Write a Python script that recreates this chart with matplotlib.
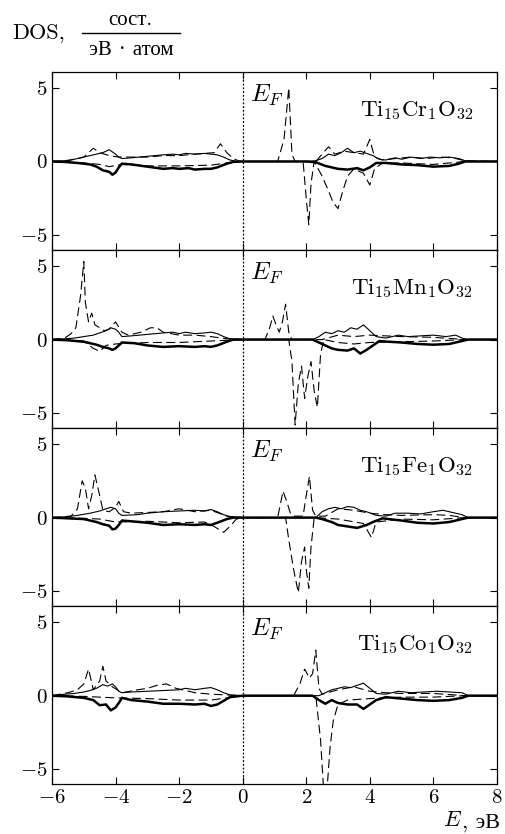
import numpy as np
import matplotlib
matplotlib.use("Agg")
import matplotlib.pyplot as plt
from matplotlib.lines import Line2D

plt.rcParams['font.family'] = ['cmr10', 'Liberation Serif']
plt.rcParams['mathtext.fontset'] = 'cm'
plt.rcParams['axes.formatter.use_mathtext'] = True
plt.rcParams['axes.unicode_minus'] = True

labels = [r'$\mathrm{Ti}_{15}\mathrm{Cr}_{1}\mathrm{O}_{32}$',
          r'$\mathrm{Ti}_{15}\mathrm{Mn}_{1}\mathrm{O}_{32}$',
          r'$\mathrm{Ti}_{15}\mathrm{Fe}_{1}\mathrm{O}_{32}$',
          r'$\mathrm{Ti}_{15}\mathrm{Co}_{1}\mathrm{O}_{32}$']

# ---- Ti15Cr1O32 ----
cr_e_up = [-6, -5.6, -5.3, -5.0, -4.8, -4.6, -4.4, -4.3, -4.2, -4.1, -4.0, -3.9, -3.8, -3.5, -3.0, -2.5, -2.2, -2.0, -1.8, -1.5, -1.2, -1.0, -0.8, -0.6, -0.4, -0.2, 0,
           2.0, 2.3, 2.5, 2.7, 2.9, 3.1, 3.3, 3.5, 3.7, 3.9, 4.1, 4.3, 4.5, 4.8, 5.0, 5.3, 5.6, 5.9, 6.2, 6.5, 6.8, 7.0, 7.2, 8]
cr_up = [0, 0.05, 0.15, 0.3, 0.4, 0.5, 0.6, 0.7, 0.8, 0.65, 0.5, 0.3, 0.2, 0.25, 0.35, 0.45, 0.5, 0.45, 0.55, 0.5, 0.55, 0.5, 0.45, 0.3, 0.1, 0.02, 0,
         0, 0.05, 0.2, 0.5, 0.4, 0.6, 0.9, 0.6, 0.7, 0.55, 0.4, 0.15, 0.1, 0.25, 0.15, 0.3, 0.2, 0.3, 0.25, 0.3, 0.2, 0.05, 0, 0]
cr_e_dn = [-6, -5.6, -5.2, -4.8, -4.6, -4.4, -4.2, -4.1, -4.0, -3.9, -3.8, -3.5, -3.0, -2.5, -2.2, -2.0, -1.7, -1.5, -1.2, -1.0, -0.8, -0.5, -0.3, 0,
           2.0, 2.3, 2.6, 3.0, 3.3, 3.6, 3.8, 4.0, 4.2, 4.5, 5.0, 5.5, 6.0, 6.5, 6.8, 7.0, 8]
cr_dn = [0, -0.03, -0.1, -0.2, -0.35, -0.6, -0.7, -0.9, -0.75, -0.4, -0.15, -0.2, -0.35, -0.5, -0.45, -0.5, -0.45, -0.55, -0.5, -0.5, -0.4, -0.15, -0.03, 0,
         0, -0.05, -0.3, -0.5, -0.55, -0.45, -0.6, -0.4, -0.1, -0.1, -0.2, -0.25, -0.35, -0.3, -0.15, 0, 0]
cr_e_imp_up = [-6, -5.5, -5.0, -4.7, -4.5, -4.2, -3.9, -3.5, -3.0, -2.5, -2.0, -1.5, -1.2, -0.9, -0.7, -0.5, -0.3, -0.1, 0,
               1.1, 1.3, 1.45, 1.55, 1.65, 2.3, 2.5, 2.7, 2.9, 3.2, 3.5, 3.8, 4.0, 4.15, 4.4, 4.8, 5.3, 5.8, 6.2, 6.6, 7.0, 8]
cr_imp_up = [0, 0.05, 0.3, 0.9, 0.6, 0.4, 0.3, 0.3, 0.3, 0.4, 0.4, 0.5, 0.55, 0.6, 1.2, 0.6, 0.2, 0.02, 0,
             0, 1.5, 5.0, 0.5, 0, 0, 0.5, 1.0, 0.5, 0.7, 0.6, 0.5, 1.5, 0.3, 0.1, 0.2, 0.3, 0.2, 0.3, 0.25, 0.05, 0]
cr_e_imp_dn = [-6, -5.0, -4.5, -4.2, -3.8, -3.0, -2.0, -1.0, -0.5, 0,
               1.9, 2.0, 2.08, 2.15, 2.25, 2.5, 2.7, 2.85, 3.0, 3.15, 3.3, 3.5, 3.8, 4.0, 4.15, 4.4, 5.0, 6.0, 7.0, 8]
cr_imp_dn = [0, -0.1, -0.2, -0.35, -0.2, -0.3, -0.3, -0.25, -0.1, 0,
             0, -2.5, -4.3, -1.5, 0.0, -1.0, -2.0, -2.8, -3.2, -2.0, -1.0, -0.5, -0.8, -1.6, -0.5, -0.1, -0.1, -0.2, 0, 0]

# ---- Ti15Mn1O32 ----
mn_e_up = [-6, -5.6, -5.3, -5.0, -4.7, -4.5, -4.3, -4.15, -4.0, -3.9, -3.8, -3.5, -3.0, -2.5, -2.2, -2.0, -1.8, -1.5, -1.2, -1.0, -0.8, -0.6, -0.4, 0,
           2.2, 2.4, 2.6, 2.8, 3.0, 3.2, 3.4, 3.6, 3.8, 4.0, 4.2, 4.5, 4.9, 5.2, 5.6, 6.0, 6.4, 6.7, 6.9, 7.1, 8]
mn_up = [0, 0.05, 0.1, 0.2, 0.3, 0.45, 0.6, 0.8, 0.7, 0.5, 0.2, 0.25, 0.35, 0.45, 0.5, 0.4, 0.5, 0.4, 0.45, 0.5, 0.4, 0.2, 0.05, 0,
         0, 0.2, 0.5, 0.4, 0.6, 0.5, 0.8, 0.7, 1.0, 0.6, 0.2, 0.1, 0.3, 0.2, 0.25, 0.3, 0.2, 0.3, 0.1, 0, 0]
mn_e_dn = [-6, -5.5, -5.0, -4.6, -4.4, -4.2, -4.1, -4.0, -3.9, -3.8, -3.4, -3.0, -2.5, -2.0, -1.5, -1.2, -1.0, -0.8, -0.5, -0.3, 0,
           2.2, 2.5, 2.8, 3.0, 3.3, 3.5, 3.7, 3.9, 4.1, 4.3, 4.6, 5.0, 5.5, 6.0, 6.5, 6.9, 7.1, 8]
mn_dn = [0, -0.05, -0.15, -0.35, -0.5, -0.6, -0.7, -0.6, -0.4, -0.2, -0.25, -0.4, -0.5, -0.45, -0.5, -0.45, -0.5, -0.4, -0.15, 0, 0,
         0, -0.3, -0.6, -0.7, -0.75, -0.6, -0.95, -0.7, -0.4, -0.1, -0.15, -0.2, -0.3, -0.35, -0.3, -0.1, 0, 0]
mn_e_imp_up = [-6, -5.6, -5.4, -5.25, -5.1, -5.0, -4.95, -4.85, -4.75, -4.65, -4.5, -4.35, -4.2, -4.0, -3.8, -3.6, -3.2, -2.9, -2.7, -2.5, -2.0, -1.5, -1.0, -0.5, 0,
               0.7, 0.85, 0.95, 1.05, 1.15, 1.25, 1.35, 1.45, 1.55, 2.5, 3.0, 3.5, 4.0, 5.0, 6.0, 7.0, 8]
mn_imp_up = [0, 0.1, 0.4, 0.8, 3.0, 5.3, 2.5, 1.2, 1.8, 1.0, 0.8, 0.6, 0.7, 1.2, 0.5, 0.3, 0.5, 0.8, 0.8, 0.5, 0.3, 0.3, 0.2, 0.05, 0,
             0, 0.8, 1.6, 1.0, 0.5, 1.2, 2.4, 0.5, 0, 0, 0.3, 0.2, 0.3, 0.2, 0.15, 0, 0]
mn_e_imp_dn = [-6, -5.0, -4.7, -4.5, -4.3, -4.0, -3.0, -2.0, -1.0, 0,
               1.45, 1.55, 1.65, 1.75, 1.85, 1.95, 2.05, 2.15, 2.25, 2.35, 2.45, 2.55, 3.0, 3.5, 4.0, 5.0, 6.0, 7.0, 8]
mn_imp_dn = [0, -0.1, -0.6, -0.8, -0.4, -0.3, -0.2, -0.2, -0.1, 0,
             0, -1.5, -5.8, -3.0, -1.8, -4.0, -2.5, -1.5, -3.5, -4.6, -1.0, 0, -0.2, -0.3, -0.2, -0.15, -0.1, 0, 0]

# ---- Ti15Fe1O32 ----
fe_e_up = [-6, -5.6, -5.2, -4.8, -4.5, -4.3, -4.15, -4.0, -3.9, -3.8, -3.3, -3.0, -2.5, -2.0, -1.5, -1.2, -1.0, -0.8, -0.6, -0.4, 0,
           2.3, 2.5, 2.7, 2.9, 3.1, 3.3, 3.5, 3.7, 3.9, 4.2, 4.5, 4.8, 5.2, 5.6, 6.0, 6.3, 6.6, 6.9, 7.1, 8]
fe_up = [0, 0.05, 0.15, 0.3, 0.45, 0.6, 0.7, 0.6, 0.3, 0.15, 0.2, 0.3, 0.4, 0.45, 0.5, 0.45, 0.55, 0.4, 0.2, 0.05, 0,
         0, 0.4, 0.6, 0.7, 0.6, 0.75, 0.7, 0.5, 0.4, 0.15, 0.1, 0.3, 0.3, 0.25, 0.4, 0.5, 0.35, 0.2, 0, 0]
fe_e_dn = [-6, -5.5, -5.0, -4.6, -4.4, -4.2, -4.1, -4.0, -3.9, -3.8, -3.5, -3.0, -2.5, -2.0, -1.5, -1.2, -1.0, -0.8, -0.5, -0.3, 0,
           2.3, 2.5, 2.8, 3.0, 3.3, 3.6, 3.9, 4.1, 4.4, 5.0, 5.5, 6.0, 6.5, 6.9, 7.1, 8]
fe_dn = [0, -0.05, -0.1, -0.3, -0.45, -0.55, -0.8, -0.75, -0.5, -0.2, -0.25, -0.35, -0.5, -0.45, -0.5, -0.45, -0.5, -0.35, -0.1, 0, 0,
         0, -0.1, -0.3, -0.5, -0.6, -0.7, -0.5, -0.3, -0.05, -0.2, -0.35, -0.4, -0.3, -0.1, 0, 0]
fe_e_imp_up = [-6, -5.4, -5.2, -5.05, -4.95, -4.85, -4.75, -4.65, -4.5, -4.4, -4.2, -4.0, -3.9, -3.75, -3.5, -3.0, -2.5, -2.0, -1.5, -1.0, -0.5, 0,
               1.1, 1.27, 1.4, 1.5, 1.6, 1.9, 2.0, 2.1, 2.2, 2.3, 2.6, 3.0, 3.5, 4.0, 4.5, 5.0, 6.0, 6.5, 7.0, 8]
fe_imp_up = [0, 0.1, 0.6, 2.5, 2.0, 0.6, 1.5, 2.9, 1.5, 0.5, 0.4, 0.7, 1.1, 0.4, 0.3, 0.35, 0.4, 0.6, 0.4, 0.5, 0.1, 0,
             0, 1.8, 1.0, 0.3, 0.1, 0.1, 1.5, 2.8, 0.5, 0.1, 0.1, 0.6, 0.5, 0.3, 0.2, 0.15, 0.2, 0.15, 0, 0]
fe_e_imp_dn = [-6, -5.0, -4.5, -4.0, -3.0, -2.0, -1.2, -0.9, -0.6, -0.4, -0.2, 0,
               1.35, 1.45, 1.6, 1.75, 1.85, 1.95, 2.0, 2.08, 2.15, 2.25, 3.0, 3.8, 4.05, 4.2, 5.0, 6.0, 7.0, 8]
fe_imp_dn = [0, -0.05, -0.1, -0.3, -0.25, -0.35, -0.3, -0.6, -1.0, -0.6, -0.1, 0,
             0, -1.5, -3.5, -5.1, -3.0, -2.0, -3.5, -4.8, -2.0, 0, -0.1, -0.4, -1.35, -0.3, -0.1, -0.15, 0, 0]

# ---- Ti15Co1O32 ----
co_e_up = [-6, -5.6, -5.3, -5.0, -4.8, -4.6, -4.4, -4.25, -4.1, -4.0, -3.9, -3.8, -3.5, -3.0, -2.5, -2.0, -1.8, -1.5, -1.2, -1.0, -0.8, -0.6, -0.4, 0,
           2.4, 2.6, 2.8, 3.0, 3.2, 3.4, 3.6, 3.8, 4.0, 4.2, 4.5, 4.9, 5.3, 5.7, 6.1, 6.5, 6.9, 7.1, 8]
co_up = [0, 0.1, 0.15, 0.25, 0.35, 0.5, 0.75, 0.65, 0.8, 0.6, 0.3, 0.2, 0.25, 0.3, 0.35, 0.4, 0.5, 0.4, 0.5, 0.55, 0.4, 0.2, 0.05, 0,
         0, 0.2, 0.4, 0.5, 0.6, 0.55, 0.7, 0.85, 0.5, 0.15, 0.1, 0.3, 0.2, 0.25, 0.3, 0.25, 0.2, 0, 0]
co_e_dn = [-6, -5.5, -5.0, -4.7, -4.5, -4.3, -4.15, -4.0, -3.9, -3.8, -3.5, -3.0, -2.5, -2.0, -1.5, -1.2, -1.0, -0.8, -0.6, -0.4, 0,
           2.2, 2.4, 2.6, 2.8, 3.0, 3.3, 3.6, 3.8, 4.0, 4.2, 4.5, 5.0, 5.5, 6.0, 6.5, 6.9, 7.1, 8]
co_dn = [0, -0.05, -0.15, -0.3, -0.65, -0.6, -1.0, -0.8, -0.5, -0.15, -0.3, -0.4, -0.55, -0.55, -0.6, -0.55, -0.7, -0.6, -0.35, -0.1, 0,
         0, -0.3, -0.55, -0.3, -0.5, -0.6, -0.6, -0.9, -0.6, -0.3, -0.1, -0.2, -0.3, -0.35, -0.3, -0.15, 0, 0]
co_e_imp_up = [-6, -5.5, -5.2, -5.0, -4.85, -4.7, -4.5, -4.4, -4.3, -4.1, -3.8, -3.3, -3.0, -2.7, -2.4, -2.1, -1.5, -1.0, 0,
               1.6, 1.8, 1.95, 2.1, 2.2, 2.3, 2.4, 2.5, 3.0, 3.5, 4.0, 4.5, 5.0, 6.0, 7.0, 8]
co_imp_up = [0, 0.2, 0.4, 0.8, 1.8, 0.4, 1.0, 2.0, 1.0, 0.6, 0.2, 0.4, 0.5, 0.7, 0.8, 0.5, 0.2, 0.1, 0,
             0, 0.8, 1.8, 1.2, 1.5, 3.1, 0.5, 0.1, 0.4, 0.6, 0.3, 0.2, 0.15, 0.15, 0, 0]
co_e_imp_dn = [-6, -5.0, -4.5, -4.0, -3.0, -2.0, -1.0, -0.5, 0,
               2.3, 2.45, 2.55, 2.65, 2.75, 2.85, 3.0, 3.3, 4.0, 5.0, 6.0, 7.0, 8]
co_imp_dn = [0, -0.05, -0.1, -0.15, -0.2, -0.3, -0.3, -0.15, 0,
             0, -3.0, -6.5, -6.5, -3.5, -1.7, -0.6, -0.3, -0.2, -0.1, -0.1, 0, 0]

panels = [
    (cr_e_up, cr_up, cr_e_dn, cr_dn, cr_e_imp_up, cr_imp_up, cr_e_imp_dn, cr_imp_dn),
    (mn_e_up, mn_up, mn_e_dn, mn_dn, mn_e_imp_up, mn_imp_up, mn_e_imp_dn, mn_imp_dn),
    (fe_e_up, fe_up, fe_e_dn, fe_dn, fe_e_imp_up, fe_imp_up, fe_e_imp_dn, fe_imp_dn),
    (co_e_up, co_up, co_e_dn, co_dn, co_e_imp_up, co_imp_up, co_e_imp_dn, co_imp_dn),
]

fig, axes = plt.subplots(4, 1, figsize=(5.05, 8.34), dpi=100, sharex=True)
fig.subplots_adjust(left=0.103, right=0.984, bottom=0.060, top=0.914, hspace=0)

for ax, data, lab in zip(axes, panels, labels):
    eu, u, ed, d, eiu, iu, eid, idn = data
    ax.plot(eu, u, color='black', lw=0.8)
    ax.plot(ed, d, color='black', lw=1.8)
    ax.plot(eiu, iu, color='black', lw=0.8, dashes=(8, 4))
    ax.plot(eid, idn, color='black', lw=0.8, dashes=(8, 4))
    ax.axvline(0, color='black', lw=0.9, ls=(0, (1.5, 1.5)))
    ax.set_xlim(-6, 8)
    ax.set_ylim(-6, 6.1)
    ax.set_yticks([-5, 0, 5])
    ax.set_xticks([-6, -4, -2, 0, 2, 4, 6, 8])
    ax.tick_params(direction='in', top=True, right=True, length=5, width=0.8, labelsize=15)
    for s in ax.spines.values():
        s.set_linewidth(0.9)
    ax.text(0.22, 4.5, r'$E_F$', fontsize=18, va='center', ha='left')
    ax.text(7.25, 3.45, lab, fontsize=16.5, va='center', ha='right')

fig.text(0.024, 0.960, 'DOS,', fontsize=16, va='center', ha='left')
fig.text(0.259, 0.976, 'сост.', fontsize=15, va='center', ha='center')
fig.text(0.259, 0.940, 'эВ · атом', fontsize=15, va='center', ha='center')
fig.add_artist(Line2D([0.162, 0.356], [0.960, 0.960], color='black', lw=1.0,
                      transform=fig.transFigure))

# x axis label: italic E (math) followed by Cyrillic unit
unit = fig.text(0.99, 0.014, ', эВ', fontsize=16, va='center', ha='right')
fig.canvas.draw()
bb = unit.get_window_extent().transformed(fig.transFigure.inverted())
fig.text(bb.x0, 0.016, r'$E$', fontsize=16, va='center', ha='right')

fig.savefig('out.png', dpi=100)
